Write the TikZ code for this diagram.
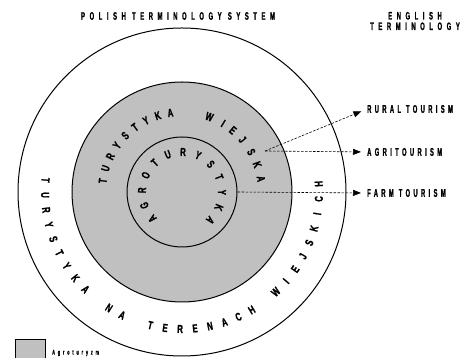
\documentclass[tikz,border=0pt]{standalone}
\usepackage{fontspec}
\usetikzlibrary{arrows.meta}
\newfontfamily\circfont[FakeStretch=0.68,FakeBold=1.2]{Liberation Sans Bold}
\newfontfamily\labfont[FakeStretch=0.52,LetterSpace=30,FakeBold=1.2]{Liberation Sans Bold}
\newfontfamily\titfont[FakeStretch=0.55,LetterSpace=42,FakeBold=1.2]{Liberation Sans Bold}
\newfontfamily\legfont[FakeStretch=0.55,LetterSpace=40,FakeBold=0.8]{Liberation Sans Bold}
\definecolor{ringgray}{RGB}{192,192,192}
\tikzset{
  ring/.style={draw, circle, inner sep=0pt, line width=1pt},
  circletter/.style={font=\circfont\fontsize{11.5}{11.5}\selectfont, inner sep=0pt},
  engl/.style={font=\labfont\fontsize{11.2}{11}\selectfont, inner sep=0pt, anchor=west},
  titl/.style={font=\titfont\fontsize{10.8}{10.5}\selectfont, inner sep=0pt, align=center},
  dasharrow/.style={dashed, dash pattern=on 2.5pt off 1.5pt, line width=0.6pt, -{Triangle[length=8pt,width=6pt]}, shorten >=6pt}
}
\begin{document}
\begin{tikzpicture}[x=1pt,y=1pt]
\useasboundingbox (0,0) rectangle (466,358);
\coordinate (c) at (182,166);
% circles
\node[ring, fill=white, minimum size=328pt] (outer) at (c) {};
\node[ring, fill=ringgray, minimum size=220pt] (mid) at (c) {};
\node[ring, fill=ringgray, minimum size=110pt] (inner) at (c) {};
% outer text (counterclockwise, tops inward)
\foreach \l [count=\i from 0] in {T,U,R,Y,S,T,Y,K,A,{},N,A,{},T,E,R,E,N,A,C,H,{},W,I,E,J,S,K,I,C,H} {
  \pgfmathsetmacro\ang{175+6.28*\i}
  \node[circletter, rotate=\ang+90] (out\i) at ([shift={(\ang:137pt)}]c) {\l};
}
% gray ring text (clockwise, tops outward)
\foreach \ang/\l [count=\i] in {172/T,162.8/U,153.6/R,144.4/Y,135.2/S,126/T,116.8/Y,107.6/K,98.4/A,70/W,59/I,50.5/E,41/J,30/S,20/K,9.5/A} {
  \node[circletter, rotate=\ang-90] (mid\i) at ([shift={(\ang:80pt)}]c) {\l};
}
% inner text
\foreach \l [count=\i from 0] in {A,G,R,O,T,U,R,Y,S,T,Y,K,A} {
  \pgfmathsetmacro\ang{222-22.25*\i}
  \node[circletter, rotate=\ang-90] (in\i) at ([shift={(\ang:40pt)}]c) {\l};
}
% titles
\node[titl] (title) at (178,342) {POLISH TERMINOLOGY SYSTEM};
\node[titl] (eng) at (415,337) {ENGLISH\\TERMINOLOGY};
% english labels
\node[engl] (rural) at (367,249) {RURAL TOURISM};
\node[engl] (agrit) at (367,206) {AGRITOURISM};
\node[engl] (farm) at (367,165) {FARM TOURISM};
% connectors
\coordinate (agri) at (265,207);
\draw[dasharrow] (agri) -- (rural.west);
\draw[dasharrow] (agri) -- (agrit.west);
\draw[dasharrow] (inner.east) -- (farm.west);
% legend
\node[draw, fill=ringgray, line width=0.6pt, minimum width=30pt, minimum height=20pt, inner sep=0pt, anchor=north west] (legbox) at (15,19) {};
\node[font=\legfont\fontsize{7}{7}\selectfont, inner sep=0pt, anchor=west] (legtxt) at (52,5) {Agroturyzm};
\end{tikzpicture}
\end{document}
